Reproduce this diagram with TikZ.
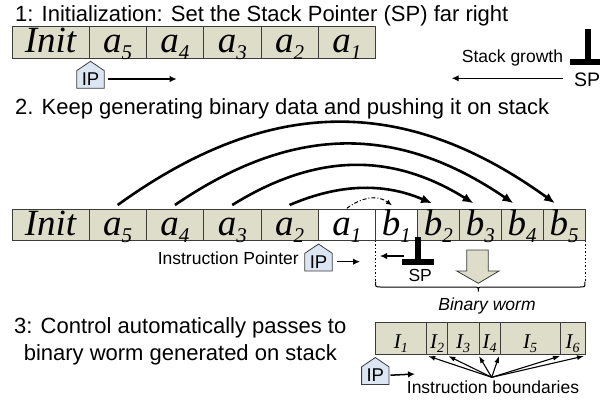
\documentclass[tikz,border=0pt]{standalone}
\usepackage{fontspec}
\setmainfont{Liberation Sans}
\newfontfamily\cellfont{Liberation Serif}
\usetikzlibrary{arrows.meta}

\definecolor{khaki}{RGB}{221,221,201}
\definecolor{boxline}{RGB}{60,60,60}
\definecolor{ipfill}{RGB}{220,230,242}

% letter with a lowered index, for the stack cells
\newcommand\cellsub[2]{#1\raisebox{-7pt}{\fontsize{21}{21}\selectfont #2}}
% instruction label with a lowered index
\newcommand\instsub[2]{#1\raisebox{-4pt}{\fontsize{14}{14}\selectfont #2}}

\tikzset{
  cell/.style={draw=boxline, fill=khaki, line width=0.8pt, inner sep=0pt, outer sep=0pt,
    anchor=west, minimum height=31.4pt, text height=26pt, text depth=5.4pt,
    font=\cellfont\itshape\fontsize{37}{37}\selectfont},
  blank/.style={fill=white},
  icell/.style={cell, minimum height=31.3pt, text height=25.6pt, text depth=5.7pt,
    font=\cellfont\itshape\fontsize{21}{21}\selectfont},
  title/.style={anchor=base west, inner sep=0pt, font=\fontsize{22}{26}\selectfont},
  note/.style={inner sep=0pt, font=\fontsize{17.5}{20}\selectfont},
  ptr/.style={line width=1.5pt, -{Latex[length=7pt,width=6.5pt]}},
  hop/.style={line width=2.6pt, -{Latex[length=11pt,width=9pt]}},
  edgeptr/.style={line width=1.1pt, -{Latex[length=7pt,width=5pt]}},
  ipbox/.style={draw=boxline, fill=ipfill, line width=0.8pt},
  iptag/.pic={
    \draw[ipbox] (-13.7,0) -- (-13.7,-17.7) -- (0,-27) -- (13.7,-17.7) -- (13.7,0) -- cycle;
    \node[inner sep=0pt, font=\fontsize{18.5}{18.5}\selectfont] (-ip) at (0,-9.3) {IP};
    \coordinate (-r) at (13.7,-9.3);
  },
}

\begin{document}
\begin{tikzpicture}[x=1pt,y=-1pt]
\useasboundingbox (0,0) rectangle (600,400);
\clip (0,0) rectangle (600,400);

% ---- step 1 ----
\node[title] (t1) at (15,21.7) {1: Initialization: Set the Stack Pointer (SP) far right};

\node[cell, minimum width=77pt] (r1i) at (12,42.5) {Init};
\node[cell, minimum width=57.3pt] (r1a5) at (r1i.east) {\cellsub{a}{5}};
\node[cell, minimum width=57.3pt] (r1a4) at (r1a5.east) {\cellsub{a}{4}};
\node[cell, minimum width=57.3pt] (r1a3) at (r1a4.east) {\cellsub{a}{3}};
\node[cell, minimum width=57.3pt] (r1a2) at (r1a3.east) {\cellsub{a}{2}};
\node[cell, minimum width=57.3pt] (r1a1) at (r1a2.east) {\cellsub{a}{1}};

\pic (ip1) at (90.5,88.3) {iptag};
\coordinate (ip1end) at (176.7,79);
\draw[ptr] ([xshift=3.5pt]ip1-r) -- (ip1end);

\node[note, anchor=base west] (grow) at (461.7,62.7) {Stack growth};
\coordinate (grow0) at (562.7,78.3);
\coordinate (grow1) at (451.7,78.3);
\draw[ptr] (grow0) -- (grow1);

% stack pointer mark
\fill (585.2,29.3) rectangle (590.8,60);
\fill (570,59.3) rectangle (606,65);
\node[inner sep=0pt, anchor=base west, font=\fontsize{19.5}{20}\selectfont] (sp1) at (574,86.7) {SP};

% ---- step 2 ----
\node[title] (t2) at (15,114.3) {2. Keep generating binary data and pushing it on stack};

\node[cell, minimum width=77pt] (r2i) at (12,225) {Init};
\node[cell, minimum width=57.3pt] (r2a5) at (r2i.east) {\cellsub{a}{5}};
\node[cell, minimum width=57.3pt] (r2a4) at (r2a5.east) {\cellsub{a}{4}};
\node[cell, minimum width=57.3pt] (r2a3) at (r2a4.east) {\cellsub{a}{3}};
\node[cell, minimum width=57.3pt] (r2a2) at (r2a3.east) {\cellsub{a}{2}};
\node[cell, blank, minimum width=57.3pt] (r2a1) at (r2a2.east) {\cellsub{a}{1}};
\node[cell, blank, minimum width=41.9pt] (r2b1) at (r2a1.east) {\cellsub{b}{1}};
\node[cell, minimum width=41.9pt] (r2b2) at (r2b1.east) {\cellsub{b}{2}};
\node[cell, minimum width=41.9pt] (r2b3) at (r2b2.east) {\cellsub{b}{3}};
\node[cell, minimum width=41.9pt] (r2b4) at (r2b3.east) {\cellsub{b}{4}};
\node[cell, minimum width=41.9pt] (r2b5) at (r2b4.east) {\cellsub{b}{5}};

% copies of the code cells onto the stack
\draw[hop] ([yshift=4.3pt]r2a5.north) .. controls +(151,-109) and +(-151,-109) .. ([xshift=-9pt,yshift=6pt]r2b5.north);
\draw[hop] ([yshift=4.3pt]r2a4.north) .. controls +(117,-80) and +(-117,-80) .. ([xshift=-8.7pt,yshift=6pt]r2b4.north);
\draw[hop] ([yshift=4.3pt]r2a3.north) .. controls +(83,-51.5) and +(-83,-51.5) .. ([xshift=-6.7pt,yshift=6pt]r2b3.north);
\draw[hop] ([yshift=4.3pt]r2a2.north) .. controls +(49,-21) and +(-49,-21) .. ([xshift=-6.3pt,yshift=6pt]r2b2.north);
\draw[line width=1pt, dash pattern=on 4pt off 2pt on 1pt off 2pt, -{Latex[length=6pt,width=5pt]}]
  ([yshift=1pt]r2a1.north) .. controls +(15,-11) and +(-15,-11) .. ([xshift=-4.5pt,yshift=4pt]r2b1.north);

\node[note, anchor=base east] (iplbl) at (299,264.3) {Instruction Pointer};
\pic (ip2) at (318.5,271) {iptag};
\coordinate (ip2end) at (360,261.7);
\draw[ptr] ([xshift=4.5pt]ip2-r) -- (ip2end);

% binary worm bracket
\draw[line width=1pt, dash pattern=on 1.5pt off 2pt] (r2b1.south west) -- ++(0,41);
\draw[line width=1pt, dash pattern=on 1.5pt off 2pt] (r2b5.south east) -- ++(0,41);
\draw[line width=1pt] (375.5,281.7) .. controls (375.5,287) .. (380.5,287) -- (473.3,287)
  .. controls (478.3,287) .. (478.3,291.5) .. controls (478.3,287) .. (483.3,287) -- (580,287)
  .. controls (585,287) .. (585,281.7);

\coordinate (back0) at (404,256);
\coordinate (back1) at (380,256);
\draw[ptr] (back0) -- (back1);

\fill (414.9,236.7) rectangle (420.5,260);
\fill (401.7,259) rectangle (433.6,264.5);
\node[note, anchor=base west] (sp2) at (408.3,281.7) {SP};

\draw[draw=boxline, fill=khaki, line width=0.8pt] (466.7,250) -- (488.3,250) -- (488.3,271)
  -- (499,271) -- (478.3,283.3) -- (456.7,271) -- (466.7,271) -- cycle;

\node[note, anchor=base, font=\itshape\fontsize{17.5}{20}\selectfont] (worm) at (487,310) {Binary worm};

% ---- step 3 ----
\node[anchor=base, inner sep=0pt, font=\fontsize{22}{26}\selectfont] (t3a) at (180.3,333.3) {3: Control automatically passes to};
\node[anchor=base, inner sep=0pt, font=\fontsize{22}{26}\selectfont] (t3b) at (180.3,360) {binary worm generated on stack};

\node[icell, minimum width=51.7pt] (in1) at (375,338.4) {\instsub{I}{1}};
\node[icell, minimum width=20.6pt] (in2) at (in1.east) {\instsub{I}{2}};
\node[icell, minimum width=31.7pt] (in3) at (in2.east) {\instsub{I}{3}};
\node[icell, minimum width=21pt] (in4) at (in3.east) {\instsub{I}{4}};
\node[icell, minimum width=60pt] (in5) at (in4.east) {\instsub{I}{5}};
\node[icell, minimum width=25pt] (in6) at (in5.east) {\instsub{I}{6}};

\pic (ip3) at (375.3,384.5) {iptag};
\coordinate (ip3end) at (415,374);
\draw[ptr] ([xshift=1.5pt]ip3-r) -- (ip3end);

\node[note, anchor=base west] (bnd) at (406.7,393.3) {Instruction boundaries};
\coordinate (bnd0) at (491.7,377.3);
\draw[edgeptr] (bnd0) -- ([xshift=1.5pt,yshift=-2pt]in1.south east);
\draw[edgeptr] (bnd0) -- ([xshift=1pt,yshift=-2pt]in2.south east);
\draw[edgeptr] (bnd0) -- ([yshift=-2pt]in3.south east);
\draw[edgeptr] (bnd0) -- ([xshift=-1pt,yshift=-2pt]in4.south east);
\draw[edgeptr] (bnd0) -- ([yshift=-2pt]in5.south east);
\draw[edgeptr] (bnd0) -- ([xshift=-1pt,yshift=-2pt]in6.south east);
\end{tikzpicture}
\end{document}
